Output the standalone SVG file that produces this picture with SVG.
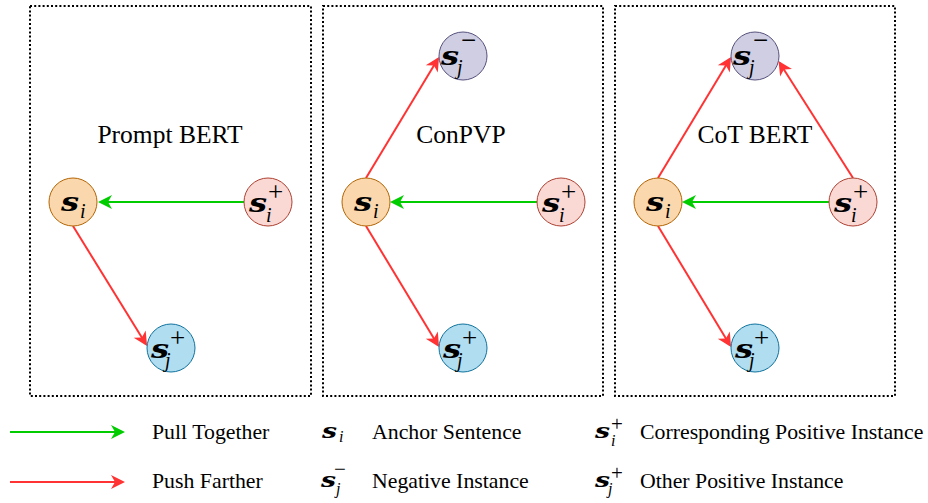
<svg xmlns="http://www.w3.org/2000/svg" width="928" height="503" viewBox="0 0 928 503">
<style>
.panel{fill:none;stroke:#000;stroke-width:2;stroke-dasharray:2 2.2}
.title{font-family:"Liberation Serif",serif;font-size:25.5px;fill:#000;text-anchor:middle}
.lbl{font-family:"Liberation Serif",serif;font-size:21.8px;fill:#000}
.s{font-family:"DejaVu Serif",serif;font-weight:bold;font-style:italic;font-size:26px;fill:#000}
.sub{font-family:"Liberation Serif",serif;font-style:italic;font-size:20px;fill:#000}
.sup{font-family:"Liberation Serif",serif;font-size:27px;fill:#000}
.ls{font-family:"DejaVu Serif",serif;font-weight:bold;font-style:italic;font-size:21px;fill:#000}
.lsub{font-family:"Liberation Serif",serif;font-style:italic;font-size:16px;fill:#000}
.lsup{font-family:"Liberation Serif",serif;font-size:21px;fill:#000}
.anc{fill:#fad7ac;stroke:#b46504;stroke-width:1}
.pos{fill:#fad9d5;stroke:#ae4132;stroke-width:1}
.oth{fill:#b1ddf0;stroke:#10739e;stroke-width:1}
.neg{fill:#d0cee2;stroke:#56517e;stroke-width:1}
.pull{fill:none;stroke:#00cc00;stroke-width:2;marker-end:url(#ag)}
.push{fill:none;stroke:#ff3333;stroke-width:2;marker-end:url(#ar)}
</style>
<defs>
<marker id="ag" markerUnits="userSpaceOnUse" viewBox="-13 -8 16 16" refX="0" refY="0" markerWidth="16" markerHeight="16" orient="auto">
<path d="M-12,-7 L2,0 L-12,7 L-8,0 Z" fill="#00cc00"/>
</marker>
<marker id="ar" markerUnits="userSpaceOnUse" viewBox="-13 -8 16 16" refX="0" refY="0" markerWidth="16" markerHeight="16" orient="auto">
<path d="M-12,-7 L2,0 L-12,7 L-8,0 Z" fill="#ff3333"/>
</marker>
</defs>

<g id="panels">
<rect class="panel" x="30" y="6" width="281" height="390"/>
<rect class="panel" x="323" y="6" width="280" height="390"/>
<rect class="panel" x="615" y="6" width="280" height="390"/>
<text class="title" x="170" y="143">Prompt BERT</text>
<text class="title" x="461" y="143">ConPVP</text>
<text class="title" x="755" y="143">CoT BERT</text>
</g>

<g id="connectors">
<line class="pull" x1="244" y1="202" x2="100" y2="202"/>
<line class="push" x1="73" y1="226" x2="146" y2="344.3"/>
<line class="pull" x1="537" y1="202" x2="392" y2="202"/>
<line class="push" x1="366" y1="178" x2="438" y2="58.7"/>
<line class="push" x1="366" y1="226" x2="438" y2="345.3"/>
<line class="pull" x1="829" y1="202" x2="684" y2="202"/>
<line class="push" x1="658" y1="178" x2="730" y2="58.7"/>
<line class="push" x1="853" y1="178" x2="779.6" y2="62.7"/>
<line class="push" x1="658" y1="226" x2="730" y2="345.3"/>
</g>

<!-- Panel 1 -->
<g id="p1-si">
<circle class="anc" cx="73" cy="202" r="24"/>
<text class="s" x="61" y="211" textLength="18" lengthAdjust="spacingAndGlyphs">s</text><text class="sub" x="80" y="218">i</text>
</g>
<g id="p1-sip">
<circle class="pos" cx="268" cy="202" r="24"/>
<text class="s" x="249" y="212" textLength="18" lengthAdjust="spacingAndGlyphs">s</text><text class="sup" x="268" y="201">+</text><text class="sub" x="266" y="222">i</text>
</g>
<g id="p1-sjp">
<circle class="oth" cx="171" cy="348" r="24"/>
<text class="s" x="151" y="358" textLength="18" lengthAdjust="spacingAndGlyphs">s</text><text class="sup" x="170" y="347">+</text><text class="sub" x="165" y="367">j</text>
</g>

<!-- Panel 2 -->
<g id="p2-si">
<circle class="anc" cx="366" cy="202" r="24"/>
<text class="s" x="354" y="211" textLength="18" lengthAdjust="spacingAndGlyphs">s</text><text class="sub" x="373" y="218">i</text>
</g>
<g id="p2-sip">
<circle class="pos" cx="561" cy="202" r="24"/>
<text class="s" x="542" y="212" textLength="18" lengthAdjust="spacingAndGlyphs">s</text><text class="sup" x="561" y="201">+</text><text class="sub" x="559" y="222">i</text>
</g>
<g id="p2-sjn">
<circle class="neg" cx="463" cy="56" r="24"/>
<text class="s" x="441" y="65" textLength="18" lengthAdjust="spacingAndGlyphs">s</text><text class="sup" x="461" y="49">−</text><text class="sub" x="457" y="74">j</text>
</g>
<g id="p2-sjp">
<circle class="oth" cx="463" cy="348" r="24"/>
<text class="s" x="443" y="358" textLength="18" lengthAdjust="spacingAndGlyphs">s</text><text class="sup" x="462" y="347">+</text><text class="sub" x="457" y="367">j</text>
</g>

<!-- Panel 3 -->
<g id="p3-si">
<circle class="anc" cx="658" cy="202" r="24"/>
<text class="s" x="646" y="211" textLength="18" lengthAdjust="spacingAndGlyphs">s</text><text class="sub" x="665" y="218">i</text>
</g>
<g id="p3-sip">
<circle class="pos" cx="853" cy="202" r="24"/>
<text class="s" x="834" y="212" textLength="18" lengthAdjust="spacingAndGlyphs">s</text><text class="sup" x="853" y="201">+</text><text class="sub" x="851" y="222">i</text>
</g>
<g id="p3-sjn">
<circle class="neg" cx="755" cy="56" r="24"/>
<text class="s" x="733" y="65" textLength="18" lengthAdjust="spacingAndGlyphs">s</text><text class="sup" x="753" y="49">−</text><text class="sub" x="749" y="74">j</text>
</g>
<g id="p3-sjp">
<circle class="oth" cx="755" cy="348" r="24"/>
<text class="s" x="735" y="358" textLength="18" lengthAdjust="spacingAndGlyphs">s</text><text class="sup" x="754" y="347">+</text><text class="sub" x="749" y="367">j</text>
</g>

<!-- Legend -->
<g id="legend">
<line class="pull" x1="10" y1="432" x2="123" y2="432"/>
<line class="push" x1="10" y1="482" x2="123" y2="482"/>
<text class="lbl" x="152" y="439">Pull Together</text>
<text class="lbl" x="152" y="488">Push Farther</text>
<text class="ls" x="322" y="438" textLength="15" lengthAdjust="spacingAndGlyphs">s</text><text class="lsub" x="339" y="442">i</text>
<text class="lbl" x="372" y="439">Anchor Sentence</text>
<text class="ls" x="321" y="487" textLength="15" lengthAdjust="spacingAndGlyphs">s</text><text class="lsup" x="334" y="476">−</text><text class="lsub" x="336" y="494">j</text>
<text class="lbl" x="372" y="488">Negative Instance</text>
<text class="ls" x="595" y="438" textLength="15" lengthAdjust="spacingAndGlyphs">s</text><text class="lsup" x="611" y="431">+</text><text class="lsub" x="611" y="446">i</text>
<text class="lbl" x="640" y="439">Corresponding Positive Instance</text>
<text class="ls" x="595" y="487" textLength="15" lengthAdjust="spacingAndGlyphs">s</text><text class="lsup" x="611" y="480">+</text><text class="lsub" x="608" y="494">j</text>
<text class="lbl" x="640" y="488">Other Positive Instance</text>
</g>
</svg>
